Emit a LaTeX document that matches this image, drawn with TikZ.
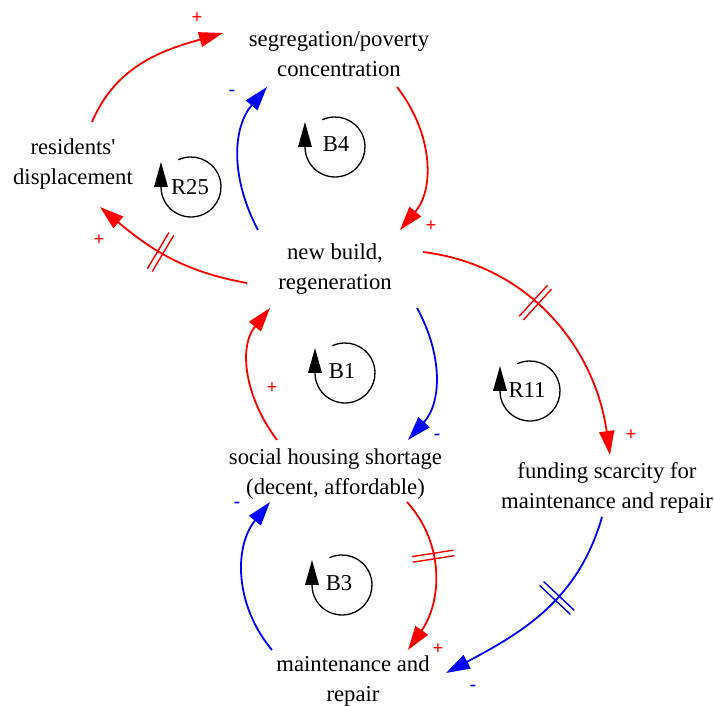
\documentclass[tikz,border=0pt]{standalone}
\usepackage{fontspec}
\setmainfont{Liberation Serif}
\usetikzlibrary{arrows.meta,decorations.markings}
\begin{document}
\begin{tikzpicture}[x=1pt,y=1pt,
  var/.style={font=\fontsize{22.7}{29.5}\selectfont, anchor=base, inner sep=0pt},
  link/.style={line width=1.8pt, -{Triangle[length=24pt,width=15pt]}},
  sgn/.style={font=\fontsize{19}{19}\selectfont\bfseries, inner sep=0pt},
  looplbl/.style={font=\fontsize{22.7}{22.7}\selectfont, inner sep=0pt},
  delaymark/.style={postaction={decorate, decoration={markings,
      mark=at position #1 with {\draw[-,line width=1.4pt] (-2.8pt,-21pt) -- (-2.8pt,21pt) (2.8pt,-21pt) -- (2.8pt,21pt);}}}},
  loopsym/.pic={
    \draw[line width=1.3pt] (115:30pt) arc[start angle=115,end angle=-180,radius=30pt];
    \fill (-37pt,0pt) -- (-23pt,0pt) -- (-30pt,25pt) -- cycle;
  }
]
\fill[white] (0,0) rectangle (714,706);
\useasboundingbox (0,0) rectangle (714,706);

% variables
\node[var] (seg)  at (339,659)   {\begin{tabular}[t]{@{}c@{}}segregation/poverty\\concentration\end{tabular}};
\node[var] (res)  at (73,551)    {\begin{tabular}[t]{@{}c@{}}residents\textquotesingle\\displacement\end{tabular}};
\node[var] (nb)   at (335,446)   {\begin{tabular}[t]{@{}c@{}}new build,\\regeneration\end{tabular}};
\node[var] (soc)  at (335.5,241) {\begin{tabular}[t]{@{}c@{}}social housing shortage\\(decent, affordable)\end{tabular}};
\node[var] (fund) at (607,227)   {\begin{tabular}[t]{@{}c@{}}funding scarcity for\\maintenance and repair\end{tabular}};
\node[var] (mnt)  at (353,34)    {\begin{tabular}[t]{@{}c@{}}maintenance and\\repair\end{tabular}};

% links
\draw[link, red] ([shift={(19,33)}]res.base) to[out=67,in=196] ([shift={(-116,14)}]seg.base);
\draw[link, blue] ([shift={(-77,30)}]nb.base) to[out=118,in=230] ([shift={(-72,-40)}]seg.base);
\draw[link, red] ([shift={(58,-40)}]seg.base) to[out=-52,in=50] ([shift={(65,30)}]nb.base);
\draw[link, red, delaymark=0.55] ([shift={(-88,-23)}]nb.base) to[out=170,in=-40] ([shift={(27,-52)}]res.base);
\draw[link, red, delaymark=0.42] ([shift={(88,8)}]nb.base) to[out=-7,in=98] ([shift={(3,24)}]fund.base);
\draw[link, blue] ([shift={(82,-48)}]nb.base) to[out=-61,in=48] ([shift={(72.5,25)}]soc.base);
\draw[link, red] ([shift={(-58.5,25)}]soc.base) to[out=127,in=231] ([shift={(-65,-48)}]nb.base);
\draw[link, red, delaymark=0.38] ([shift={(71.5,-37)}]soc.base) to[out=-48,in=55] ([shift={(55,22)}]mnt.base);
\draw[link, blue] ([shift={(-81,22)}]mnt.base) to[out=130,in=231] ([shift={(-65.5,-37)}]soc.base);
\draw[link, blue, delaymark=0.41] ([shift={(-5,-38)}]fund.base) to[out=254,in=28] ([shift={(93,-1)}]mnt.base);

% polarities
\node[sgn, red]  (s1)  at (197,688) {+};
\node[sgn, blue] (s2)  at (232,613) {-};
\node[sgn, red]  (s3)  at (431,480) {+};
\node[sgn, red]  (s4)  at (99,466)  {+};
\node[sgn, red]  (s5)  at (631,271) {+};
\node[sgn, blue] (s6)  at (437,269) {-};
\node[sgn, red]  (s7)  at (272,318) {+};
\node[sgn, red]  (s8)  at (438,57)  {+};
\node[sgn, blue] (s9)  at (237,201) {-};
\node[sgn, blue] (s10) at (473,18)  {-};

% loops
\pic (b4)  at (335,559) {loopsym};
\node[looplbl] (lb4)  at (336,562) {B4};
\pic (r25) at (191,519) {loopsym};
\node[looplbl] (lr25) at (190,519) {R25};
\pic (b1)  at (345,333) {loopsym};
\node[looplbl] (lb1)  at (342,335) {B1};
\pic (b3)  at (342,121) {loopsym};
\node[looplbl] (lb3)  at (339,123) {B3};
\pic (r11) at (530,315) {loopsym};
\node[looplbl] (lr11) at (527,316) {R11};
\end{tikzpicture}
\end{document}
